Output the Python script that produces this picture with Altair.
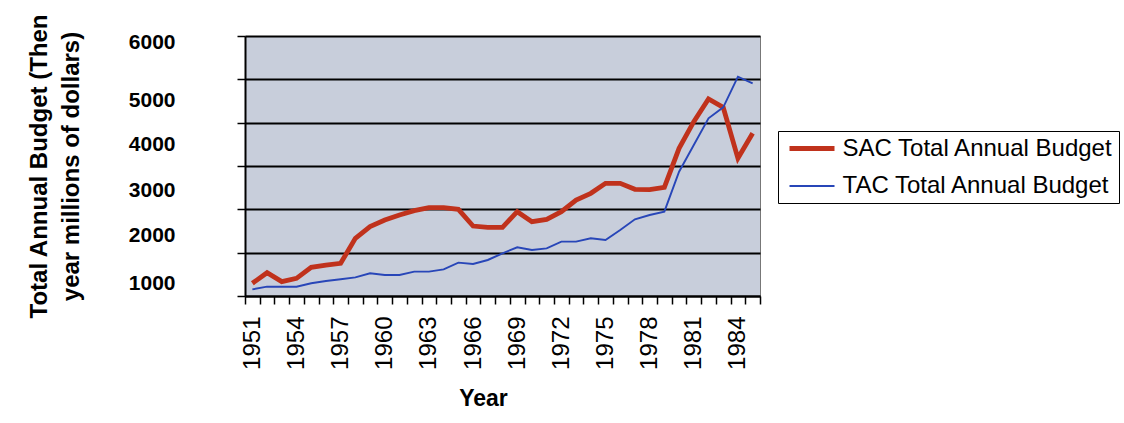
import altair as alt
import pandas as pd

# Annual budgets, then-year millions of dollars
years = list(range(1951, 1986))
sac_budget = [293, 538, 331, 408, 662, 715, 754, 1331, 1600, 1754,
              1869, 1969, 2038, 2038, 2000, 1615, 1585, 1585, 1946, 1715,
              1769, 1946, 2215, 2369, 2600, 2600, 2462, 2454, 2508, 3408,
              4023, 4546, 4354, 3177, 3754]
tac_budget = [154, 215, 215, 215, 293, 346, 385, 431, 523, 485,
              485, 562, 562, 615, 769, 738, 831, 985, 1123, 1062,
              1100, 1254, 1254, 1331, 1292, 1523, 1769, 1869, 1946, 2869,
              3485, 4100, 4354, 5062, 4908]

series_names = ["SAC Total Annual Budget", "TAC Total Annual Budget"]
series_colors = ["#c0321c", "#2846b8"]
series_widths = [4.8, 1.9]

y_ticks = [0, 1000, 2000, 3000, 4000, 5000, 6000]
x_ticks = [y - 0.5 for y in years] + [years[-1] + 0.5]

rows = []
for name, values in zip(series_names, [sac_budget, tac_budget]):
    for yr, v in zip(years, values):
        rows.append({"Year": yr, "Budget": v, "Series": name})
df = pd.DataFrame(rows)

font = "Liberation Sans"

x_axis = alt.Axis(
    values=x_ticks,
    labelExpr="((datum.value + 0.5 - 1951) % 3 == 0 && datum.value < 1985) ? format(datum.value + 0.5, 'd') : ''",
    labelAngle=-90,
    labelOffset=7.36,
    labelPadding=12,
    labelFontSize=24,
    labelFont=font,
    labelColor="black",
    labelOverlap=False,
    labelFlush=False,
    tickSize=8,
    tickColor="black",
    tickWidth=1.5,
    domainColor="black",
    domainWidth=2,
    grid=False,
    title="Year",
    titleFont=font,
    titleFontSize=23,
    titleFontWeight="bold",
    titleColor="black",
    titleX=238,
    titleY=109,
    titleBaseline="alphabetic",
    titleAnchor="middle",
)

y_axis = alt.Axis(
    values=y_ticks,
    format="d",
    labelExpr="datum.value == 0 ? '' : datum.label",
    labelFontSize=21,
    labelFontWeight="bold",
    labelFont=font,
    labelColor="black",
    labelPadding=62,
    labelFlush=False,
    labelOverlap=False,
    labelOffset={
        "condition": [
            {"test": "datum.value == 6000", "value": 6},
            {"test": "datum.value == 5000", "value": 21},
            {"test": "datum.value == 4000", "value": 22},
            {"test": "datum.value == 3000", "value": 24},
            {"test": "datum.value == 2000", "value": 26},
        ],
        "value": 31,
    },
    tickSize=8,
    tickColor="black",
    tickWidth=1.5,
    domainColor="black",
    domainWidth=2,
    grid=True,
    gridColor="black",
    gridWidth=2,
    title=["Total Annual Budget (Then", "year millions of dollars)"],
    titleFont=font,
    titleFontSize=24,
    titleFontWeight="bold",
    titleColor="black",
    titleLineHeight=32,
    titleAngle=-90,
    titleX=-194,
    titleY=130,
    titleAlign="center",
    titleBaseline="bottom",
)

# Short-bodied stroke symbol: a wide horizontal path on a small symbol size
legend = alt.Legend(
    title=None,
    titlePadding=0,
    orient="none",
    legendX=533,
    legendY=95,
    symbolType="M-2.25,0H2.25",
    symbolSize=400,
    symbolOffset=16.5,
    labelFont=font,
    labelFontSize=24,
    labelColor="black",
    labelLimit=500,
    labelOffset=18,
    rowPadding=13,
    padding=5,
    strokeColor="black",
    fillColor="white",
)

chart = (
    alt.Chart(df)
    .mark_line()
    .encode(
        x=alt.X("Year:Q", scale=alt.Scale(domain=[1950.5, 1985.5], nice=False, zero=False), axis=x_axis),
        y=alt.Y("Budget:Q", scale=alt.Scale(domain=[0, 6000], nice=False), axis=y_axis),
        color=alt.Color("Series:N", scale=alt.Scale(domain=series_names, range=series_colors), legend=legend),
        strokeWidth=alt.StrokeWidth("Series:N", scale=alt.Scale(domain=series_names, range=series_widths), legend=legend),
    )
    .properties(
        width=515,
        height=260,
        autosize=alt.AutoSizeParams(type="none"),
        padding={"left": 245, "top": 36, "right": 364, "bottom": 127},
        background="white",
    )
    .configure_view(fill="#c8cedb", stroke="#777777", strokeWidth=1)
)

chart.save("out.html", embed_options={"renderer": "svg", "actions": False})
